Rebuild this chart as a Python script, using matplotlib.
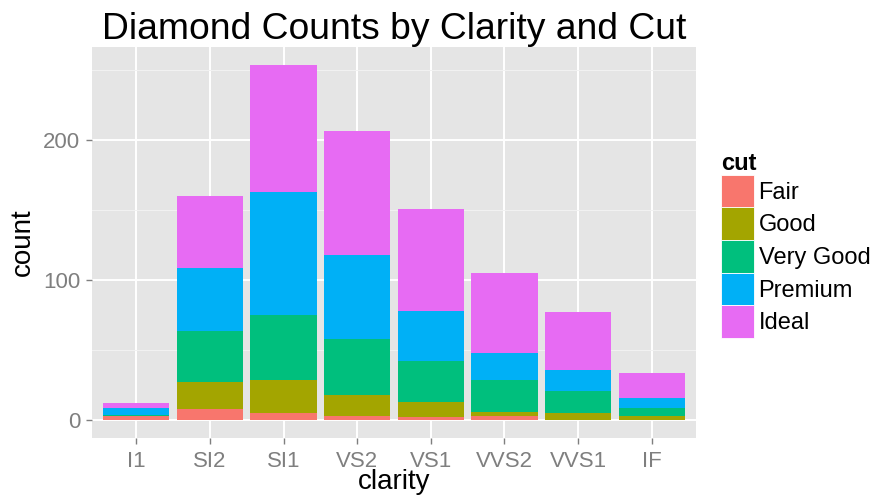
import numpy as np
import matplotlib
matplotlib.use("Agg")
import matplotlib.pyplot as plt

plt.rcParams['font.family'] = ['Liberation Sans', 'DejaVu Sans']

# counts of diamonds per clarity level, split by cut
clarity = ['I1', 'SI2', 'SI1', 'VS2', 'VS1', 'VVS2', 'VVS1', 'IF']
cuts = ['Fair', 'Good', 'Very Good', 'Premium', 'Ideal']
fair = [3, 8, 5, 3, 2, 3, 0, 0]
good = [0, 19, 24, 15, 11, 3, 5, 3]
very_good = [1, 37, 46, 40, 29, 23, 16, 6]
premium = [5, 45, 88, 60, 36, 19, 15, 7]
ideal = [3, 51, 91, 89, 73, 57, 41, 18]
cut_colors = ['#F8766D', '#A3A500', '#00BF7D', '#00B0F6', '#E76BF3']

fig = plt.figure(figsize=(8.75, 4.99), dpi=100)
ax = fig.add_axes([92 / 875, 1 - 438 / 499, 604 / 875, 391 / 499])
ax.set_facecolor('#E5E5E5')

x = np.arange(1, len(clarity) + 1)
bottom = np.zeros(len(clarity))
for name, vals, col in zip(cuts, [fair, good, very_good, premium, ideal], cut_colors):
    ax.bar(x, vals, width=0.9, bottom=bottom, color=col, label=name, zorder=3)
    bottom += np.array(vals)

top = bottom.max()
ax.set_xlim(0.4, len(clarity) + 0.6)
ax.set_ylim(-0.05 * top, 1.05 * top)

ax.set_yticks([0, 100, 200])
ax.set_yticks([50, 150, 250], minor=True)
ax.set_xticks(x)
ax.set_xticklabels(clarity)

ax.grid(which='major', color='white', linewidth=1.4, zorder=1)
ax.grid(which='minor', axis='y', color='#F2F2F2', linewidth=0.7, zorder=1)
ax.set_axisbelow(True)
for s in ax.spines.values():
    s.set_visible(False)

ax.tick_params(which='major', length=4.3, width=1, color='#7F7F7F',
               labelsize=16, labelcolor='#7F7F7F')
ax.tick_params(axis='x', pad=5)
ax.tick_params(axis='y', pad=4)
ax.tick_params(which='minor', length=0)

ax.set_xlabel('clarity', fontsize=20, labelpad=-2)
ax.set_ylabel('count', fontsize=20, labelpad=5)
ax.set_title('Diamond Counts by Clarity and Cut', fontsize=26.8, pad=5)

# square colour keys stacked without gaps
leg = ax.legend(title='cut', loc='upper left', bbox_to_anchor=(1.041, 0.732),
                frameon=False, fontsize=17, title_fontsize=17,
                handlelength=1.4, handleheight=1.75, handletextpad=0.2,
                labelspacing=0.0, borderaxespad=0, borderpad=0)
leg.get_title().set_fontweight('bold')
leg._legend_box.align = 'left'
for h in leg.legend_handles:
    h.set_edgecolor('white')
    h.set_linewidth(0.6)

fig.savefig('out.png', dpi=100)
